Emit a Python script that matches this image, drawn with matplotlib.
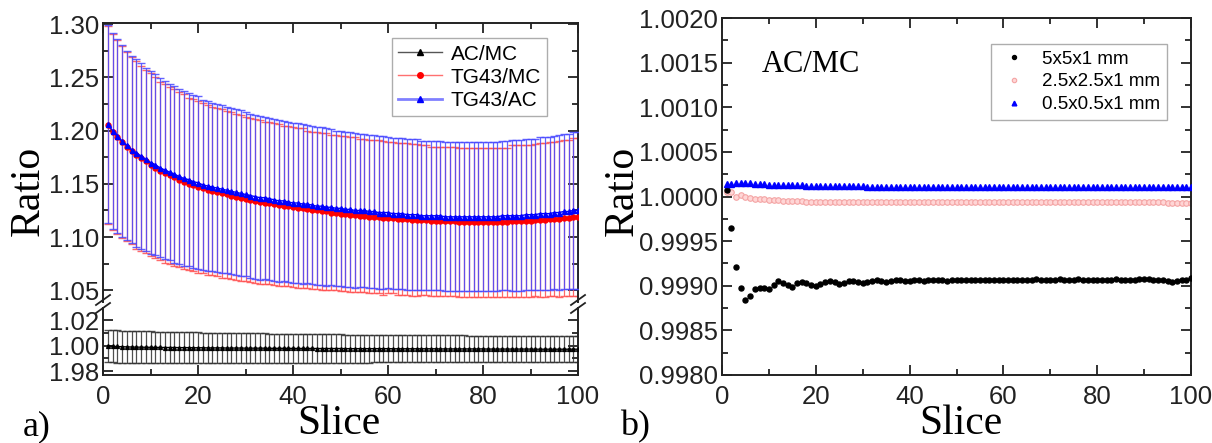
import matplotlib.pyplot as plt
from matplotlib.lines import Line2D
from matplotlib.ticker import MultipleLocator, FormatStrFormatter

# slice index, shared by every series
slices = list(range(1, 101))

# panel a) TG43/MC ratio (red) and TG43/AC ratio (blue)
tg43_mc = [
    1.205, 1.199, 1.194, 1.189, 1.185, 1.181, 1.177, 1.174, 1.171, 1.168,
    1.165, 1.162, 1.160, 1.158, 1.156, 1.154, 1.152, 1.150, 1.149, 1.147,
    1.146, 1.144, 1.143, 1.142, 1.141, 1.140, 1.139, 1.138, 1.137, 1.136,
    1.135, 1.134, 1.133, 1.132, 1.132, 1.131, 1.130, 1.129, 1.129, 1.128,
    1.127, 1.127, 1.126, 1.125, 1.125, 1.124, 1.124, 1.123, 1.123, 1.122,
    1.122, 1.121, 1.121, 1.120, 1.120, 1.119, 1.119, 1.119, 1.118, 1.118,
    1.118, 1.117, 1.117, 1.117, 1.116, 1.116, 1.116, 1.116, 1.115, 1.115,
    1.115, 1.115, 1.115, 1.115, 1.114, 1.114, 1.114, 1.114, 1.114, 1.114,
    1.114, 1.114, 1.114, 1.114, 1.114, 1.115, 1.115, 1.115, 1.115, 1.115,
    1.116, 1.116, 1.116, 1.117, 1.117, 1.117, 1.118, 1.118, 1.119, 1.119]
tg43_ac = [
    1.206, 1.200, 1.195, 1.190, 1.186, 1.182, 1.179, 1.176, 1.173, 1.170,
    1.168, 1.165, 1.163, 1.161, 1.159, 1.157, 1.155, 1.154, 1.152, 1.151,
    1.149, 1.148, 1.147, 1.146, 1.145, 1.144, 1.143, 1.142, 1.141, 1.140,
    1.139, 1.138, 1.137, 1.137, 1.136, 1.135, 1.134, 1.134, 1.133, 1.132,
    1.132, 1.131, 1.131, 1.130, 1.129, 1.129, 1.128, 1.128, 1.127, 1.127,
    1.126, 1.126, 1.125, 1.125, 1.125, 1.124, 1.124, 1.123, 1.123, 1.123,
    1.122, 1.122, 1.122, 1.121, 1.121, 1.121, 1.120, 1.120, 1.120, 1.120,
    1.120, 1.119, 1.119, 1.119, 1.119, 1.119, 1.119, 1.119, 1.119, 1.119,
    1.119, 1.119, 1.119, 1.120, 1.120, 1.120, 1.120, 1.120, 1.121, 1.121,
    1.121, 1.122, 1.122, 1.122, 1.123, 1.123, 1.124, 1.124, 1.125, 1.125]
tg43_err = [
    0.093, 0.092, 0.091, 0.090, 0.089, 0.088, 0.088, 0.087, 0.086, 0.086,
    0.085, 0.084, 0.084, 0.083, 0.083, 0.082, 0.082, 0.081, 0.081, 0.081,
    0.080, 0.080, 0.079, 0.079, 0.079, 0.078, 0.078, 0.078, 0.078, 0.077,
    0.077, 0.077, 0.077, 0.076, 0.076, 0.076, 0.076, 0.075, 0.075, 0.075,
    0.075, 0.075, 0.074, 0.074, 0.074, 0.074, 0.074, 0.073, 0.073, 0.073,
    0.073, 0.073, 0.073, 0.072, 0.072, 0.072, 0.072, 0.072, 0.072, 0.071,
    0.071, 0.071, 0.071, 0.071, 0.071, 0.071, 0.070, 0.070, 0.070, 0.070,
    0.070, 0.070, 0.070, 0.070, 0.070, 0.070, 0.070, 0.070, 0.070, 0.070,
    0.070, 0.070, 0.070, 0.070, 0.070, 0.071, 0.071, 0.071, 0.071, 0.071,
    0.071, 0.072, 0.072, 0.072, 0.072, 0.073, 0.073, 0.073, 0.074, 0.074]

# panel a) AC/MC ratio (black, lower broken part)
ac_mc = [
    1.0000, 0.9995, 0.9993, 0.9991, 0.9990, 0.9989, 0.9988, 0.9988, 0.9987, 0.9987,
    0.9986, 0.9986, 0.9985, 0.9985, 0.9985, 0.9984, 0.9984, 0.9984, 0.9983, 0.9983,
    0.9983, 0.9982, 0.9982, 0.9982, 0.9982, 0.9981, 0.9981, 0.9981, 0.9981, 0.9980,
    0.9980, 0.9980, 0.9980, 0.9980, 0.9979, 0.9979, 0.9979, 0.9979, 0.9979, 0.9978,
    0.9978, 0.9978, 0.9978, 0.9978, 0.9977, 0.9977, 0.9977, 0.9977, 0.9977, 0.9977,
    0.9976, 0.9976, 0.9976, 0.9976, 0.9976, 0.9976, 0.9976, 0.9976, 0.9976, 0.9976,
    0.9975, 0.9975, 0.9975, 0.9975, 0.9975, 0.9975, 0.9975, 0.9975, 0.9975, 0.9975,
    0.9974, 0.9974, 0.9974, 0.9974, 0.9974, 0.9974, 0.9974, 0.9974, 0.9974, 0.9974,
    0.9973, 0.9973, 0.9973, 0.9973, 0.9973, 0.9973, 0.9973, 0.9973, 0.9973, 0.9973,
    0.9972, 0.9972, 0.9972, 0.9972, 0.9972, 0.9972, 0.9972, 0.9972, 0.9972, 0.9972]
ac_mc_err = [
    0.0125, 0.0126, 0.0127, 0.0127, 0.0127, 0.0127, 0.0126, 0.0126, 0.0125, 0.0125,
    0.0124, 0.0124, 0.0123, 0.0123, 0.0122, 0.0122, 0.0121, 0.0121, 0.0120, 0.0120,
    0.0119, 0.0119, 0.0118, 0.0118, 0.0118, 0.0117, 0.0117, 0.0117, 0.0116, 0.0116,
    0.0116, 0.0115, 0.0115, 0.0115, 0.0114, 0.0114, 0.0114, 0.0113, 0.0113, 0.0113,
    0.0112, 0.0112, 0.0112, 0.0112, 0.0111, 0.0111, 0.0111, 0.0111, 0.0110, 0.0110,
    0.0110, 0.0110, 0.0109, 0.0109, 0.0109, 0.0109, 0.0108, 0.0108, 0.0108, 0.0108,
    0.0107, 0.0107, 0.0107, 0.0107, 0.0107, 0.0106, 0.0106, 0.0106, 0.0106, 0.0106,
    0.0105, 0.0105, 0.0105, 0.0105, 0.0105, 0.0105, 0.0104, 0.0104, 0.0104, 0.0104,
    0.0104, 0.0104, 0.0104, 0.0103, 0.0103, 0.0103, 0.0103, 0.0103, 0.0103, 0.0103,
    0.0103, 0.0103, 0.0103, 0.0103, 0.0103, 0.0103, 0.0103, 0.0103, 0.0103, 0.0103]

# panel b) AC/MC for three voxel sizes
vox_5 = [
    1.00007, 0.99965, 0.99921, 0.99897, 0.99884, 0.99888, 0.99896, 0.99898, 0.99897, 0.99896,
    0.99901, 0.99905, 0.99903, 0.99901, 0.99899, 0.99903, 0.99904, 0.99903, 0.99901, 0.99900,
    0.99902, 0.99904, 0.99905, 0.99904, 0.99902, 0.99903, 0.99905, 0.99905, 0.99904, 0.99903,
    0.99904, 0.99905, 0.99906, 0.99905, 0.99904, 0.99905, 0.99906, 0.99906, 0.99905, 0.99905,
    0.99906, 0.99906, 0.99905, 0.99906, 0.99907, 0.99906, 0.99906, 0.99905, 0.99906, 0.99907,
    0.99907, 0.99906, 0.99906, 0.99907, 0.99906, 0.99906, 0.99907, 0.99907, 0.99906, 0.99906,
    0.99907, 0.99907, 0.99906, 0.99906, 0.99907, 0.99907, 0.99908, 0.99907, 0.99907, 0.99907,
    0.99907, 0.99908, 0.99907, 0.99907, 0.99907, 0.99908, 0.99907, 0.99907, 0.99906, 0.99907,
    0.99907, 0.99907, 0.99907, 0.99908, 0.99907, 0.99907, 0.99907, 0.99907, 0.99908, 0.99908,
    0.99908, 0.99907, 0.99907, 0.99906, 0.99905, 0.99904, 0.99905, 0.99906, 0.99907, 0.99909]
vox_25 = [
    1.00005, 1.00005, 0.99999, 1.00002, 0.99999, 0.99998, 0.99997, 0.99997, 0.99997, 0.99996,
    0.99996, 0.99996, 0.99995, 0.99995, 0.99995, 0.99995, 0.99995, 0.99994, 0.99994, 0.99994,
    0.99994, 0.99994, 0.99994, 0.99994, 0.99994, 0.99994, 0.99994, 0.99994, 0.99994, 0.99994,
    0.99994, 0.99994, 0.99994, 0.99994, 0.99994, 0.99994, 0.99994, 0.99994, 0.99994, 0.99994,
    0.99994, 0.99994, 0.99994, 0.99994, 0.99994, 0.99994, 0.99994, 0.99994, 0.99994, 0.99994,
    0.99994, 0.99994, 0.99994, 0.99994, 0.99994, 0.99994, 0.99994, 0.99994, 0.99994, 0.99994,
    0.99994, 0.99994, 0.99994, 0.99994, 0.99994, 0.99994, 0.99994, 0.99994, 0.99994, 0.99994,
    0.99994, 0.99994, 0.99994, 0.99994, 0.99994, 0.99994, 0.99994, 0.99994, 0.99994, 0.99994,
    0.99994, 0.99994, 0.99994, 0.99994, 0.99994, 0.99994, 0.99994, 0.99994, 0.99994, 0.99994,
    0.99994, 0.99994, 0.99994, 0.99994, 0.99993, 0.99993, 0.99993, 0.99993, 0.99993, 0.99993]
vox_05 = [
    1.00014, 1.00014, 1.00015, 1.00015, 1.00015, 1.00015, 1.00014, 1.00014, 1.00014, 1.00013,
    1.00013, 1.00013, 1.00013, 1.00013, 1.00013, 1.00013, 1.00013, 1.00012, 1.00012, 1.00012,
    1.00012, 1.00012, 1.00012, 1.00012, 1.00012, 1.00012, 1.00012, 1.00012, 1.00012, 1.00012,
    1.00011, 1.00011, 1.00011, 1.00011, 1.00011, 1.00011, 1.00011, 1.00011, 1.00011, 1.00011,
    1.00011, 1.00011, 1.00011, 1.00011, 1.00011, 1.00011, 1.00011, 1.00011, 1.00011, 1.00011,
    1.00011, 1.00011, 1.00011, 1.00011, 1.00011, 1.00011, 1.00011, 1.00011, 1.00011, 1.00011,
    1.00011, 1.00011, 1.00011, 1.00011, 1.00011, 1.00011, 1.00011, 1.00011, 1.00011, 1.00011,
    1.00011, 1.00011, 1.00011, 1.00011, 1.00011, 1.00011, 1.00011, 1.00011, 1.00011, 1.00011,
    1.00011, 1.00011, 1.00011, 1.00011, 1.00011, 1.00011, 1.00011, 1.00011, 1.00011, 1.00011,
    1.00011, 1.00011, 1.00011, 1.00011, 1.00011, 1.00011, 1.00011, 1.00011, 1.00011, 1.00011]

xticks = [0, 20, 40, 60, 80, 100]
upper_ticks = [1.05, 1.10, 1.15, 1.20, 1.25, 1.30]
lower_ticks = [0.98, 1.00, 1.02]
lower_labels = ['1.98', '1.00', '1.02']

plt.rcParams['font.family'] = ['Liberation Sans', 'DejaVu Sans']
SERIF = 'Liberation Serif'
TICK_FS = 18.5

W, H = 1212, 443


def px_box(x0, y0, x1, y1):
    # pixel box (top-left origin) -> figure fraction rect
    return [x0 / W, 1 - y1 / H, (x1 - x0) / W, (y1 - y0) / H]


def style_axes(ax, top=True, bottom=True):
    ax.tick_params(which='both', direction='in', top=top, bottom=bottom,
                   right=True, left=True, labelsize=TICK_FS, width=1.3,
                   colors='#222222')
    ax.tick_params(which='major', length=7)
    ax.tick_params(which='minor', length=4)
    ax.tick_params(axis='x', pad=7)
    ax.tick_params(axis='y', pad=3)
    for s in ax.spines.values():
        s.set_linewidth(1.4)
        s.set_color('#222222')


fig = plt.figure(figsize=(W / 100, H / 100), dpi=100)

ax_up = fig.add_axes(px_box(103, 23, 578, 302))
ax_lo = fig.add_axes(px_box(103, 308, 578, 375))
ax_b = fig.add_axes(px_box(722, 18, 1191, 375))

# ---- panel a) upper part
red_bar = '#ff5050'
blue_bar = '#4848ff'
ax_up.errorbar(slices, tg43_mc, yerr=tg43_err, fmt='none', ecolor=red_bar,
               elinewidth=0.9, capsize=2.6, capthick=1.0, alpha=0.85, zorder=2)
ax_up.errorbar(slices, tg43_ac, yerr=tg43_err, fmt='none', ecolor=blue_bar,
               elinewidth=0.9, capsize=2.6, capthick=1.0, alpha=0.85, zorder=3)
ax_up.plot(slices, tg43_mc, '-o', color='red', lw=1.0, ms=3.6, zorder=4)
ax_up.plot(slices, tg43_ac, '-^', color='blue', lw=1.0, ms=3.6, zorder=5)
ax_up.set_xlim(0, 100)
ax_up.set_ylim(1.039, 1.301)
ax_up.set_yticks(upper_ticks)
ax_up.yaxis.set_major_formatter(FormatStrFormatter('%.2f'))
ax_up.yaxis.set_minor_locator(MultipleLocator(0.025))
ax_up.set_xticks(xticks)
ax_up.xaxis.set_minor_locator(MultipleLocator(10))
ax_up.set_xticklabels([])
style_axes(ax_up, top=True, bottom=False)
ax_up.spines['bottom'].set_visible(False)

# ---- panel a) lower part
ax_lo.errorbar(slices, ac_mc, yerr=ac_mc_err, fmt='none', ecolor='#303030',
               elinewidth=0.9, capsize=2.6, capthick=1.0, alpha=0.85, zorder=2)
ax_lo.plot(slices, ac_mc, '-^', color='black', lw=1.0, ms=2.8, zorder=4)
ax_lo.set_xlim(0, 100)
ax_lo.set_ylim(0.977, 1.0294)
ax_lo.set_yticks(lower_ticks)
ax_lo.set_yticklabels(lower_labels)
ax_lo.yaxis.set_minor_locator(MultipleLocator(0.01))
ax_lo.set_xticks(xticks)
ax_lo.xaxis.set_minor_locator(MultipleLocator(10))
style_axes(ax_lo, top=False, bottom=True)
ax_lo.spines['top'].set_visible(False)

# break marks on the left and right spines
for xb in (103, 578):
    for yb in (300, 308):
        fig.add_artist(Line2D([(xb - 7) / W, (xb + 7) / W],
                              [1 - (yb + 5) / H, 1 - (yb - 5) / H],
                              color='#222222', lw=1.3))

leg_a = [
    Line2D([], [], color='#555555', lw=1.0, marker='^', ms=4,
           markerfacecolor='black', markeredgecolor='black'),
    Line2D([], [], color='#ff7070', lw=1.0, marker='o', ms=4,
           markerfacecolor='red', markeredgecolor='red'),
    Line2D([], [], color='#8080ff', lw=2.0, marker='^', ms=4,
           markerfacecolor='blue', markeredgecolor='blue'),
]
la = ax_up.legend(leg_a, ['AC/MC', 'TG43/MC', 'TG43/AC'], loc='upper right',
                  bbox_to_anchor=(0.935, 0.945), fontsize=15, frameon=True,
                  fancybox=False, handlelength=2.1, labelspacing=0.2,
                  borderpad=0.3, handletextpad=0.4, borderaxespad=0)
la.get_frame().set_edgecolor('#999999')
la.get_frame().set_linewidth(1.0)

# ---- panel b)
ax_b.plot(slices, vox_5, 'o', color='black', ms=3.6, label='5x5x1 mm', zorder=3)
ax_b.plot(slices, vox_25, 'o', markerfacecolor='#ffd6d6',
          markeredgecolor='#f4a4a4', mew=0.8, ms=4, label='2.5x2.5x1 mm', zorder=2)
ax_b.plot(slices, vox_05, '^', color='blue', ms=4.2, label='0.5x0.5x1 mm', zorder=4)
ax_b.set_xlim(0, 100)
ax_b.set_ylim(0.998, 1.002)
ax_b.set_yticks([0.998, 0.9985, 0.999, 0.9995, 1.0, 1.0005, 1.001, 1.0015, 1.002])
ax_b.yaxis.set_major_formatter(FormatStrFormatter('%.4f'))
ax_b.yaxis.set_minor_locator(MultipleLocator(0.00025))
ax_b.set_xticks(xticks)
ax_b.xaxis.set_minor_locator(MultipleLocator(10))
style_axes(ax_b)
lb = ax_b.legend(loc='upper right', bbox_to_anchor=(0.949, 0.927), fontsize=13.5,
                 frameon=True, fancybox=False, handlelength=1.8, labelspacing=0.3,
                 borderpad=0.35, handletextpad=0.6, borderaxespad=0, markerscale=0.8)
lb.get_frame().set_edgecolor('#999999')
lb.get_frame().set_linewidth(1.0)
ax_b.text(0.085, 0.87, 'AC/MC', transform=ax_b.transAxes, fontsize=22,
          family=SERIF, va='center', ha='left')

# axis titles and panel letters
fig.text(28 / W, 1 - 191 / H, 'Ratio', rotation=90, fontsize=30, family=SERIF,
         ha='center', va='center')
fig.text(623 / W, 1 - 191 / H, 'Ratio', rotation=90, fontsize=30, family=SERIF,
         ha='center', va='center')
fig.text(339 / W, 1 - 424 / H, 'Slice', fontsize=30, family=SERIF,
         ha='center', va='center')
fig.text(961 / W, 1 - 424 / H, 'Slice', fontsize=30, family=SERIF,
         ha='center', va='center')
fig.text(23 / W, 1 - 427 / H, 'a)', fontsize=26, family=SERIF, ha='left', va='center')
fig.text(620 / W, 1 - 427 / H, 'b)', fontsize=26, family=SERIF, ha='left', va='center')

fig.savefig('out.png', dpi=100)
